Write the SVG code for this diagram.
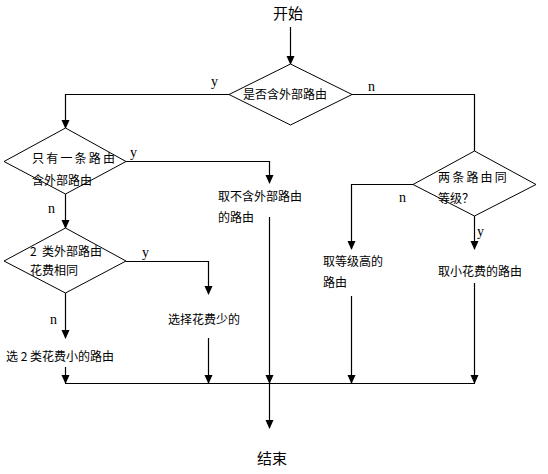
<svg xmlns="http://www.w3.org/2000/svg" width="548" height="474" viewBox="0 0 548 474">
<style>
.ln{fill:none;stroke:#000;stroke-width:1.2}
.ar{fill:none;stroke:#000;stroke-width:1.2;marker-end:url(#ah)}
.dm{fill:#fff;stroke:#000;stroke-width:1}
.t{font-family:"Noto Sans CJK SC","Liberation Sans",sans-serif;font-size:12px;fill:#000}
.tt{font-family:"Noto Sans CJK SC","Liberation Sans",sans-serif;font-size:15px;fill:#000}
.yn{font-family:"Liberation Serif",serif;font-size:14px;fill:#000}
</style>
<defs>
<marker id="ah" markerUnits="userSpaceOnUse" markerWidth="12" markerHeight="12" refX="0" refY="0" viewBox="-10 -6 12 12" orient="auto">
<path d="M1,0 L-8,-4 L-8,4 z" fill="#000"/>
</marker>
</defs>
<rect width="548" height="474" fill="#fff"/>
<g id="connectors">
<path class="ar" d="M290.5,27 V64"/>
<path class="ar" d="M229,94.5 H65.5 V128"/>
<path class="ln" d="M352,94.5 H474.5 V151"/>
<path class="ar" d="M126,161.5 H269.5 V183"/>
<path class="ar" d="M65.5,194 V228"/>
<path class="ar" d="M126,261.5 H208.5 V294"/>
<path class="ar" d="M65.5,293 V338"/>
<path class="ar" d="M413,184.5 H351.5 V249"/>
<path class="ar" d="M474.5,216 V249"/>
<path class="ar" d="M65.5,367 V383"/>
<path class="ar" d="M208.5,338 V383"/>
<path class="ar" d="M269.5,217 V383"/>
<path class="ar" d="M351.5,296 V383"/>
<path class="ar" d="M474.5,283 V383"/>
<path class="ln" d="M65,383.5 H475"/>
<path class="ar" d="M269.5,384 V428"/>
</g>
<g id="start"><text class="tt" x="288" y="19" text-anchor="middle">开始</text></g>
<g id="d1">
<polygon class="dm" points="290.5,64 352,94.5 290.5,125 229,94.5"/>
<text class="t" x="243" y="98.5">是否含外部路由</text>
<text class="yn" x="211" y="86">y</text>
<text class="yn" x="368" y="91">n</text>
</g>
<g id="d2">
<polygon class="dm" points="65.5,128 126,161.5 65.5,194 4,161.5"/>
<text class="t" x="32" y="162.5" letter-spacing="2.2">只有一条路由</text>
<text class="t" x="32" y="184.5">含外部路由</text>
<text class="yn" x="130" y="157">y</text>
<text class="yn" x="48" y="213">n</text>
</g>
<g id="r1">
<text class="t" x="218" y="201">取不含外部路由</text>
<text class="t" x="218" y="222">的路由</text>
</g>
<g id="d3">
<polygon class="dm" points="65.5,228 126,261 65.5,293 4,261"/>
<text class="t" x="30" y="256" xml:space="preserve">2  类外部路由</text>
<text class="t" x="30" y="275">花费相同</text>
<text class="yn" x="142" y="257">y</text>
<text class="yn" x="50" y="324">n</text>
</g>
<g id="r2"><text class="t" x="168" y="324">选择花费少的</text></g>
<g id="r3"><text class="t" x="6" y="361">选 2 类花费小的路由</text></g>
<g id="d4">
<polygon class="dm" points="474.5,151 536,184.5 474.5,216 413,184.5"/>
<text class="t" x="438" y="182" letter-spacing="2.2">两条路由同</text>
<text class="t" x="438" y="203">等级？</text>
<text class="yn" x="399" y="202">n</text>
<text class="yn" x="477" y="236">y</text>
</g>
<g id="r4">
<text class="t" x="323" y="266">取等级高的</text>
<text class="t" x="323" y="287">路由</text>
</g>
<g id="r5"><text class="t" x="438" y="276">取小花费的路由</text></g>
<g id="end"><text class="tt" x="272" y="464" text-anchor="middle">结束</text></g>
</svg>
